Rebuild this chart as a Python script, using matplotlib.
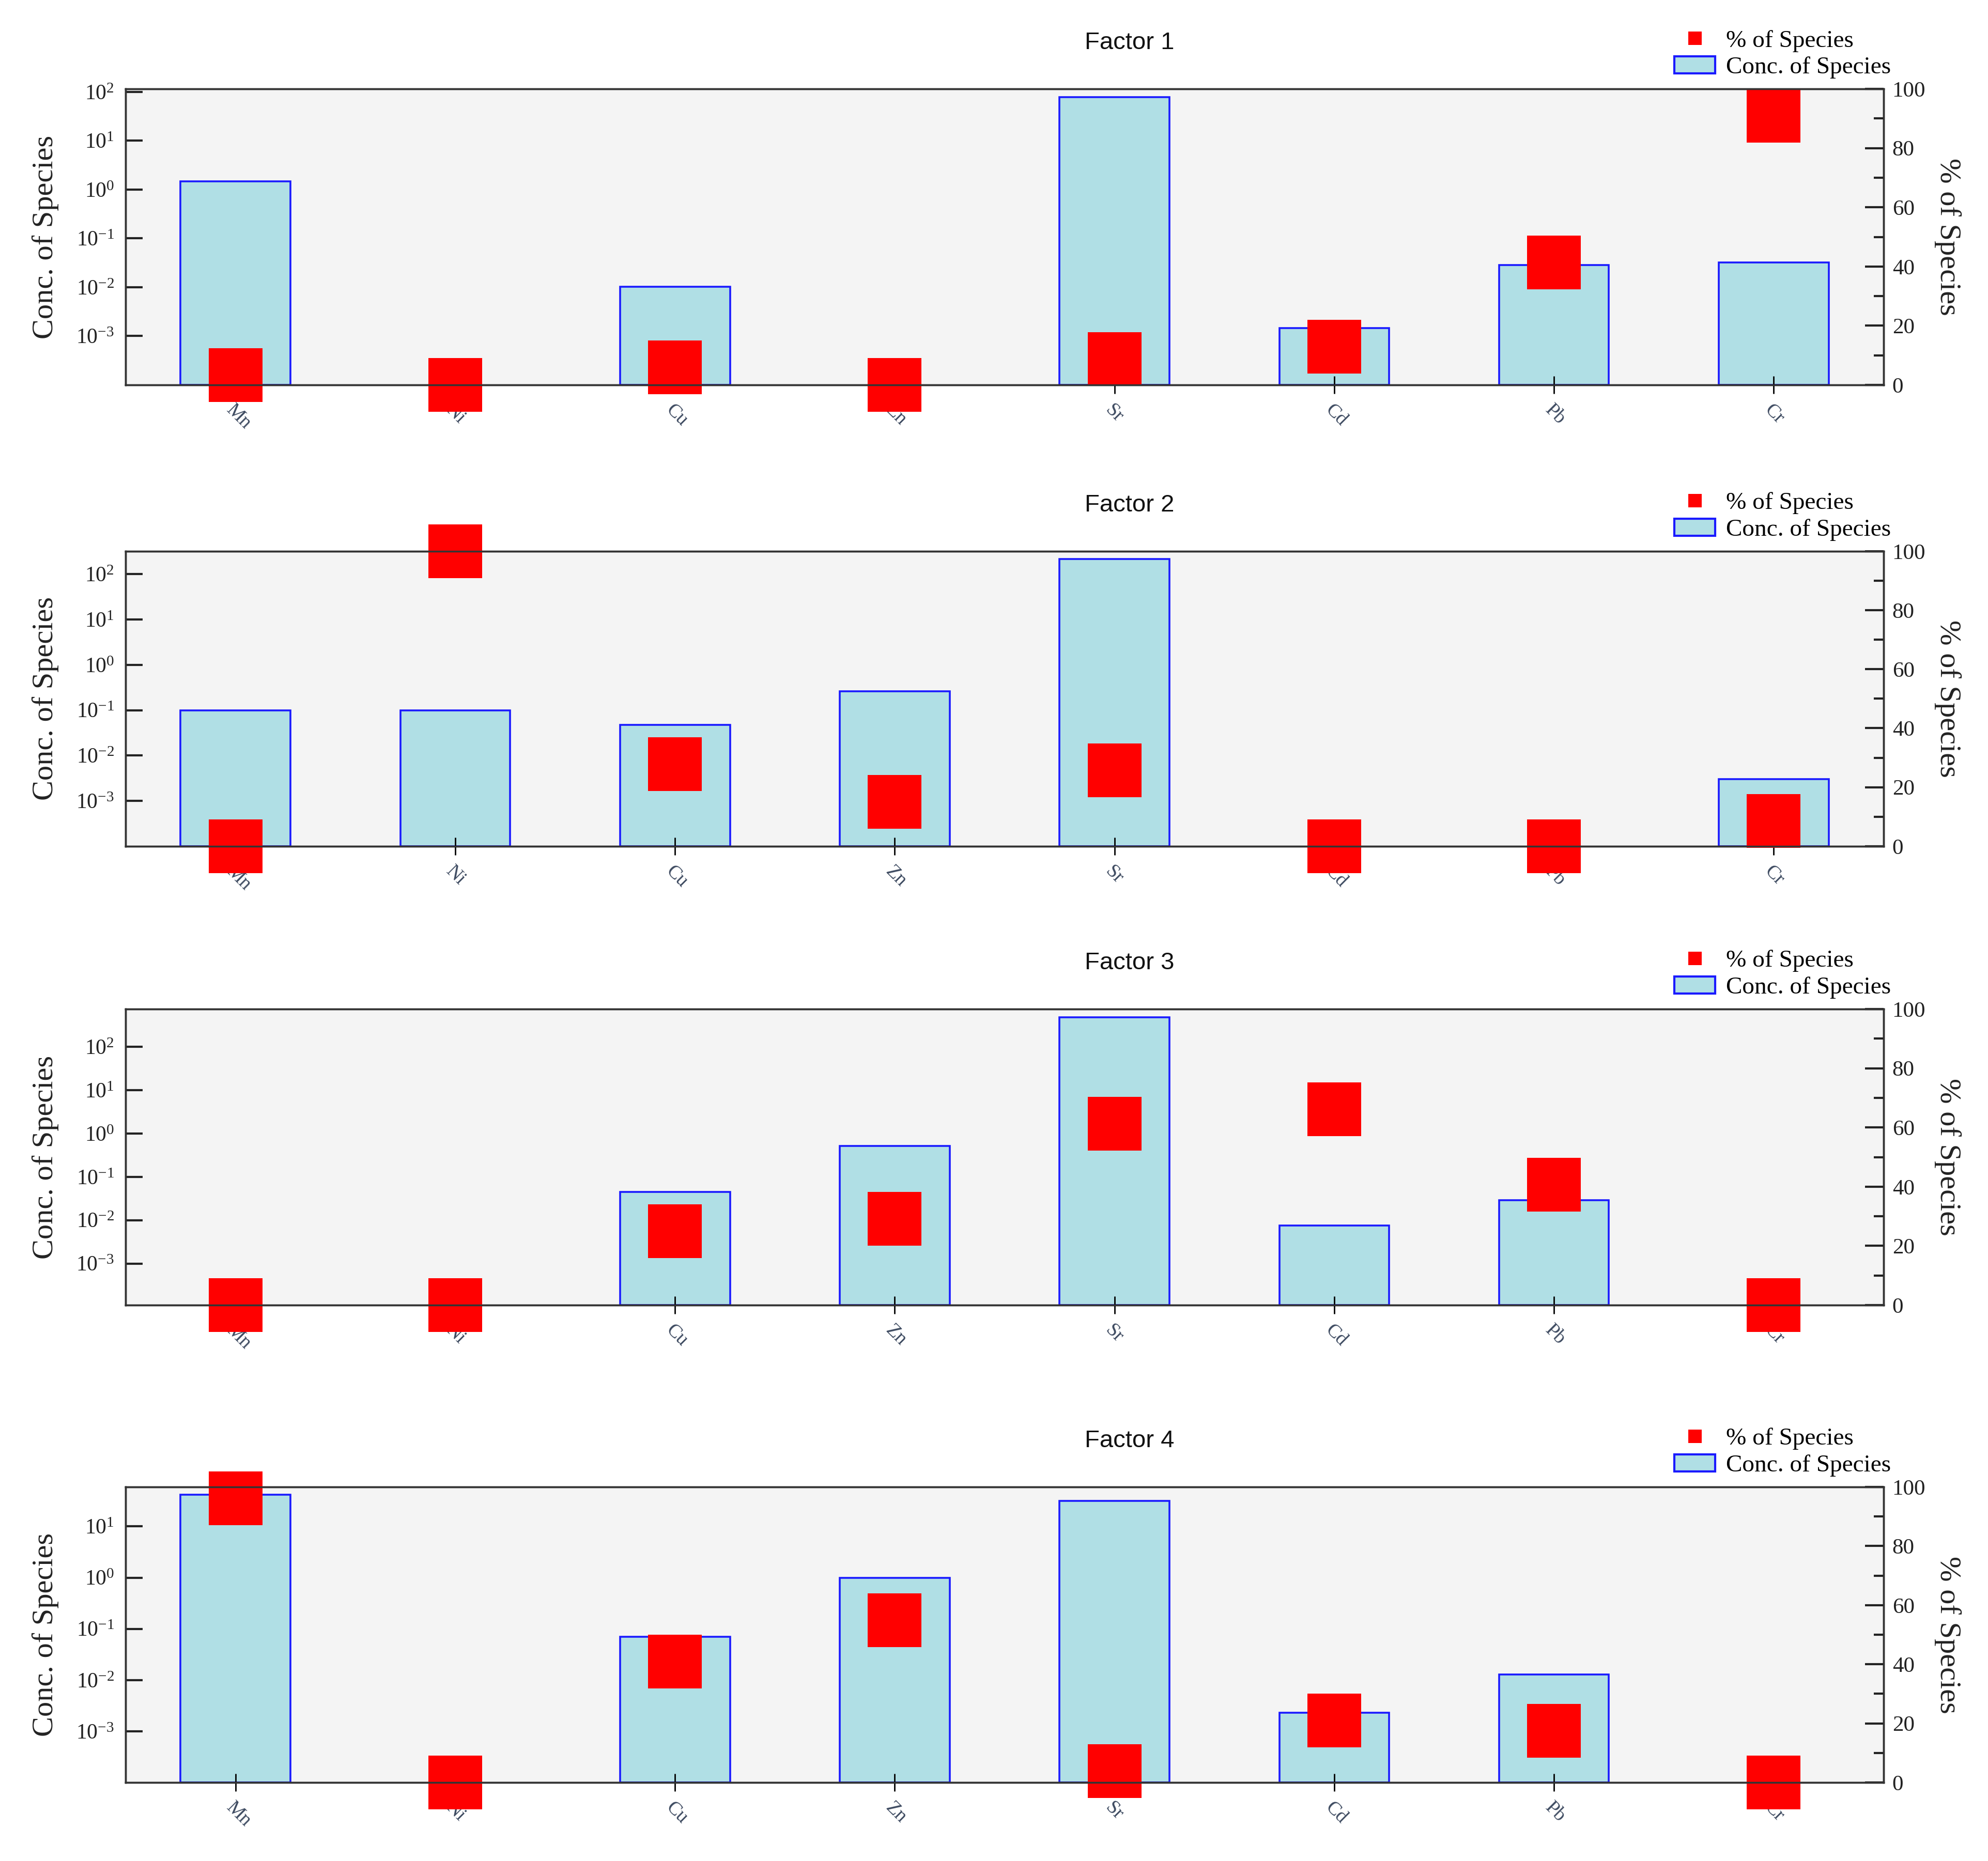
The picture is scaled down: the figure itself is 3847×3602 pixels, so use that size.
import matplotlib
matplotlib.use("Agg")
import matplotlib.pyplot as plt
import numpy as np
from matplotlib.lines import Line2D
from matplotlib.patches import Patch
from matplotlib.ticker import MultipleLocator, NullLocator, FixedLocator

plt.rcParams['font.family'] = ['Liberation Serif', 'DejaVu Serif']
plt.rcParams['mathtext.fontset'] = 'stix'

species = ['Mn', 'Ni', 'Cu', 'Zn', 'Sr', 'Cd', 'Pb', 'Cr']

# concentration of species (log axis), 0 = no bar
conc_f1 = [1.49, 0, 0.0103, 0, 78, 0.00145, 0.0286, 0.032]
conc_f2 = [0.1, 0.1, 0.047, 0.26, 215, 0, 0, 0.003]
conc_f3 = [0, 0, 0.045, 0.52, 480, 0.0076, 0.029, 0]
conc_f4 = [41.5, 0, 0.07, 0.98, 31.6, 0.0023, 0.0129, 0]

# % of species (right axis)
pct_f1 = [3.3, 0, 6.0, 0, 8.7, 12.9, 41.4, 91.0]
pct_f2 = [0, 100, 27.9, 15.1, 25.7, 0, 0, 8.6]
pct_f3 = [0, 0, 25.0, 29.2, 61.3, 66.2, 40.6, 0]
pct_f4 = [96.2, 0, 40.9, 54.9, 3.9, 20.9, 17.4, 0]

factors = ['Factor 1', 'Factor 2', 'Factor 3', 'Factor 4']
concs = [conc_f1, conc_f2, conc_f3, conc_f4]
pcts = [pct_f1, pct_f2, pct_f3, pct_f4]
ylims = [(1e-4, 115), (1e-4, 320), (1.1e-4, 740), (1e-4, 59)]
yticks = [[1e-3, 1e-2, 1e-1, 1, 10, 100],
          [1e-3, 1e-2, 1e-1, 1, 10, 100],
          [1e-3, 1e-2, 1e-1, 1, 10, 100],
          [1e-3, 1e-2, 1e-1, 1, 10]]
# axes boxes in figure fractions (left, bottom, width, height)
boxes = [(0.0632, 0.7932, 0.8843, 0.1590),
         (0.0632, 0.5453, 0.8843, 0.1585),
         (0.0632, 0.2987, 0.8843, 0.1591),
         (0.0632, 0.0422, 0.8843, 0.1588)]

fig = plt.figure(figsize=(38.47, 36.02), dpi=100)
x = np.arange(len(species))

for name, conc, pct, yl, yt, box in zip(factors, concs, pcts, ylims, yticks, boxes):
    ax = fig.add_axes(box)
    ax.set_facecolor('#f4f4f4')
    ax.set_yscale('log')
    conc = np.array(conc, dtype=float)
    m = conc > 0
    ax.bar(x[m], conc[m] - yl[0], bottom=yl[0], width=0.5,
           color='#b0dfe5', edgecolor='#1a1aff', linewidth=2.6, zorder=2)
    ax.set_xlim(-0.5, len(species) - 0.5)
    ax.set_ylim(*yl)
    ax.yaxis.set_major_locator(FixedLocator(yt))
    ax.yaxis.set_minor_locator(NullLocator())
    ax.tick_params(axis='y', direction='in', length=24, width=3, labelsize=30,
                   pad=16, colors='#222222')
    ax.tick_params(axis='x', length=0, labelbottom=False)
    ax.set_ylabel('Conc. of Species', fontsize=42, color='#222222')
    ax.yaxis.set_label_coords(-0.038, 0.5)
    for s in ax.spines.values():
        s.set_linewidth(2.5)
        s.set_color('#333333')

    ax2 = ax.twinx()
    ax2.xaxis.set_visible(True)
    ax2.plot(x, pct, linestyle='none', marker='s', markersize=75,
             color='#ff0000', markeredgewidth=0, clip_on=False, zorder=2)
    ax2.set_ylim(0, 100)
    ax2.yaxis.set_major_locator(MultipleLocator(20))
    ax2.yaxis.set_minor_locator(MultipleLocator(10))
    ax2.tick_params(axis='y', which='major', direction='in', length=26, width=3,
                    labelsize=31, pad=12, colors='#222222')
    ax2.tick_params(axis='y', which='minor', direction='in', length=14, width=3,
                    colors='#222222')
    ax2.set_xticks(x)
    ax2.set_xticklabels(species)
    ax2.tick_params(axis='x', which='major', direction='inout', length=25, width=2,
                    labelsize=27, pad=10, labelcolor='#3d4a60', bottom=True, labelbottom=True,
                    top=False, labeltop=False)
    ax2.xaxis.set_ticks_position('bottom')
    for lab in ax2.get_xticklabels():
        lab.set_rotation(-45)
        lab.set_ha('left')
        lab.set_va('top')
        lab.set_rotation_mode('anchor')
    ax2.xaxis.set_minor_locator(NullLocator())
    ax2.set_ylabel('% of Species', fontsize=42, rotation=270, color='#222222')
    ax2.yaxis.set_label_coords(1.044, 0.5)
    for s in ax2.spines.values():
        s.set_linewidth(2.5)
        s.set_color('#333333')

    ax2.text(0.571, 1.155, name, transform=ax2.transAxes, ha='center', va='center',
             fontsize=34, family='Liberation Sans', color='#111111')

    handles = [Line2D([], [], linestyle='none', marker='s', markersize=19,
                      color='#ff0000', markeredgewidth=0),
               Patch(facecolor='#b0dfe5', edgecolor='#1a1aff', linewidth=3)]
    ax2.legend(handles, ['% of Species', 'Conc. of Species'], loc='lower left',
               bbox_to_anchor=(0.881, 1.035), frameon=False, fontsize=34,
               borderpad=0, borderaxespad=0, handlelength=1.67, handletextpad=0.45,
               labelspacing=0.18)

fig.savefig('out.png', dpi=100)
